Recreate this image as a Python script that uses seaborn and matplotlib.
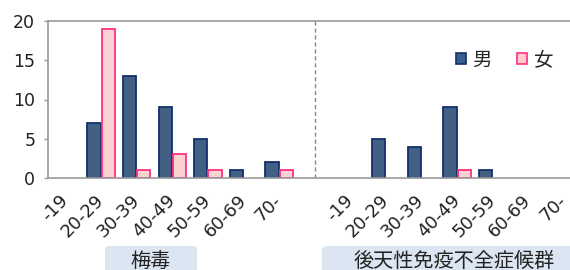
import pandas as pd
import matplotlib.pyplot as plt
import seaborn as sns
from matplotlib.patches import FancyBboxPatch, Patch

sns.set_theme(style="white")
plt.rcParams['font.family'] = ['DejaVu Sans', 'Noto Sans CJK JP']

ages = ['-19', '20-29', '30-39', '40-49', '50-59', '60-69', '70-']
groups = ['梅毒', '後天性免疫不全症候群']
sexes = ['男', '女']

syphilis_male = [0, 7, 13, 9, 5, 1, 2]
syphilis_female = [0, 19, 1, 3, 1, 0, 1]
aids_male = [0, 5, 4, 9, 1, 0, 0]
aids_female = [0, 0, 0, 1, 0, 0, 0]

male_color, male_edge = '#375E8F', '#14306A'
female_color, female_edge = '#FFCCCC', '#FF2F80'
jp = 'Noto Sans CJK JP'

# one long table, with a blank slot between the two diseases
rows = []
for grp, m_vals, f_vals in [(groups[0], syphilis_male, syphilis_female),
                            (groups[1], aids_male, aids_female)]:
    for age, m, f in zip(ages, m_vals, f_vals):
        rows.append({'slot': grp + age, 'sex': '男', 'count': m})
        rows.append({'slot': grp + age, 'sex': '女', 'count': f})
df = pd.DataFrame(rows)
order = [groups[0] + a for a in ages] + ['gap'] + [groups[1] + a for a in ages]

fig = plt.figure(figsize=(5.7, 2.7), dpi=100)
W, H = 570, 270
x0, x1, ytop, ybot = 47.7, 47.7 + 15 * 35.6, 21, 178
ax = fig.add_axes([x0 / W, 1 - ybot / H, (x1 - x0) / W, (ybot - ytop) / H])

sns.barplot(data=df, x='slot', y='count', hue='sex', order=order,
            hue_order=sexes, palette=[male_color, female_color],
            width=0.8, gap=0.08, linewidth=1.3, ax=ax, legend=False)

# edge colours per sex, hide zero bars
for i, bar in enumerate(ax.patches):
    bar.set_edgecolor(male_edge if i < len(order) else female_edge)
    if bar.get_height() == 0:
        bar.set_visible(False)

ax.set_xlim(-0.5, len(order) - 0.5)
ax.set_ylim(0, 20)
ax.set_yticks([0, 5, 10, 15, 20])
ax.set_xticks(range(len(order)))
ax.set_xticklabels(ages + [''] + ages, rotation=45, ha='right', va='center',
                   rotation_mode='anchor', fontsize=13, color='#222222')
ax.set_xticks([i - 0.5 for i in range(len(order) + 1)], minor=True)
ax.tick_params(axis='x', which='major', length=0, pad=14)
ax.tick_params(axis='x', which='minor', length=5, width=1, color='#999999', direction='out')
ax.tick_params(axis='y', length=3, width=1, color='#999999', direction='out',
               labelsize=12.5, labelcolor='#222222', pad=6, left=True)
ax.set_xlabel('')
ax.set_ylabel('')
for s in ['left', 'bottom', 'top']:
    ax.spines[s].set_color('#999999')
    ax.spines[s].set_linewidth(1.2)
ax.spines['right'].set_visible(False)

ax.axvline(7, color='#888888', linestyle=(0, (3, 2)), linewidth=1)

handles = [Patch(facecolor=male_color, edgecolor=male_edge, linewidth=1.2),
           Patch(facecolor=female_color, edgecolor=female_edge, linewidth=1.2)]
fig.legend(handles, sexes, loc='center left', bbox_to_anchor=(456 / W, 1 - 60 / H),
           ncol=2, frameon=False, prop={'family': jp, 'size': 14},
           handlelength=0.5, handleheight=0.5, handletextpad=0.35,
           columnspacing=1.3, borderpad=0, borderaxespad=0)

# group label boxes under the axis
for (bx0, bx1), label in zip([(105, 197), (322, 590)], groups):
    fig.patches.append(FancyBboxPatch((bx0 / W, 1 - 278 / H), (bx1 - bx0) / W, 32 / H,
                                      boxstyle='round,pad=0,rounding_size=0.01',
                                      transform=fig.transFigure, facecolor='#DCE6F2',
                                      edgecolor='none', zorder=0))
for cx, label in zip([151, 454], groups):
    fig.text(cx / W, 1 - 261 / H, label, ha='center', va='center',
             fontsize=14.5, family=jp, color='#222222')

fig.savefig('out.png', dpi=100)
